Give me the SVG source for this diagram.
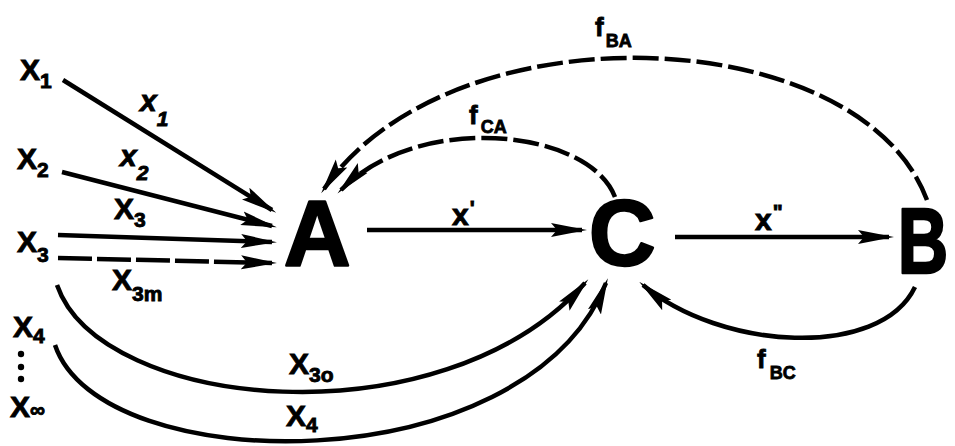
<svg xmlns="http://www.w3.org/2000/svg" width="955" height="446" viewBox="0 0 955 446">
<style>
.big{font-family:"Liberation Sans",Arial,sans-serif;font-weight:bold;font-size:92px;fill:#000;stroke:#000;stroke-width:2.5;stroke-linejoin:round}
.lbl{font-family:"Liberation Sans",Arial,sans-serif;font-weight:bold;font-size:30px;fill:#000;stroke:#000;stroke-width:0.9}
.sub{font-size:21px}
.fs{font-family:"Liberation Sans",Arial,sans-serif;font-weight:bold;font-size:26px;fill:#000;stroke:#000;stroke-width:0.8}
.fsub{font-size:18px}
.it{font-style:italic}
.ln{fill:none;stroke:#000;stroke-width:4.5;stroke-linecap:butt}
.arr{marker-end:url(#ah)}
.dash{stroke-dasharray:26 6}
.dash2{stroke-dasharray:34 5}
</style>
<defs>
<marker id="ah" markerUnits="userSpaceOnUse" markerWidth="38" markerHeight="16" refX="31" refY="8" orient="auto">
<path d="M0,1 L36,8 L0,15 L6,8 Z" fill="#000"/>
</marker>
</defs>
<rect width="955" height="446" fill="#fff"/>

<g id="connectors">
<path class="ln arr" d="M63,80 L272,210"/>
<path class="ln arr" d="M62,172 L272,226"/>
<path class="ln arr" d="M58,235 L272,242"/>
<path class="ln arr dash2" d="M58,258 L272,263"/>
<path class="ln arr" d="M367,230 L582,230"/>
<path class="ln arr" d="M675,237 L889,237"/>
<path class="ln arr dash" d="M927,200 C860,20 450,5 324,189"/>
<path class="ln arr dash" d="M615,197 C590,130 420,110 341,190"/>
<path class="ln arr" d="M915,287 C880,360 720,350 643,285"/>
<path class="ln arr" d="M57,285 C100,410 440,445 585,283"/>
<path class="ln arr" d="M55,345 C100,480 525,485 606,283"/>
</g>

<g id="edge-labels">
<text class="lbl it" x="140" y="111">x<tspan class="sub" dx="0" dy="15">1</tspan></text>
<text class="lbl it" x="120" y="166">x<tspan class="sub" dx="0" dy="14">2</tspan></text>
<text class="lbl" x="114" y="219">X<tspan class="sub" dx="0" dy="8">3</tspan></text>
<text class="lbl" x="112" y="290">X<tspan class="sub" dx="0" dy="11">3m</tspan></text>
<text class="lbl" x="289" y="374">X<tspan class="sub" dx="0" dy="8">3o</tspan></text>
<text class="lbl" x="286" y="426">X<tspan class="sub" dx="0" dy="6">4</tspan></text>
<text class="lbl" x="452" y="225">x<tspan class="sub" dx="1" dy="-10">'</tspan></text>
<text class="lbl" x="755" y="230">x<tspan class="sub" dx="1" dy="-11">"</tspan></text>
<text class="fs" x="595" y="36">f<tspan class="fsub" dx="2" dy="11">BA</tspan></text>
<text class="fs" x="469" y="124">f<tspan class="fsub" dx="3" dy="9">CA</tspan></text>
<text class="fs" x="757" y="368">f<tspan class="fsub" dx="4" dy="11">BC</tspan></text>
</g>

<g id="node-A"><text class="big" x="284" y="265">A</text></g>
<g id="node-C"><text class="big" x="589" y="265">C</text></g>
<g id="node-B"><text class="big" transform="translate(903,273) scale(0.76,1)" x="-7" y="0">B</text></g>

<g id="node-X1"><text class="lbl" x="20" y="80">X<tspan class="sub" dx="0" dy="8">1</tspan></text></g>
<g id="node-X2"><text class="lbl" x="17" y="169">X<tspan class="sub" dx="0" dy="8">2</tspan></text></g>
<g id="node-X3"><text class="lbl" x="17" y="252">X<tspan class="sub" dx="0" dy="10">3</tspan></text></g>
<g id="node-X4"><text class="lbl" x="13" y="337">X<tspan class="sub" dx="0" dy="6">4</tspan></text></g>
<g id="node-dots">
<circle cx="21" cy="354" r="3.2"/>
<circle cx="21" cy="367" r="3.2"/>
<circle cx="21" cy="379" r="3.2"/>
</g>
<g id="node-Xinf"><text class="lbl" x="10" y="417">X<tspan class="sub" dx="0" dy="0">∞</tspan></text></g>
</svg>
